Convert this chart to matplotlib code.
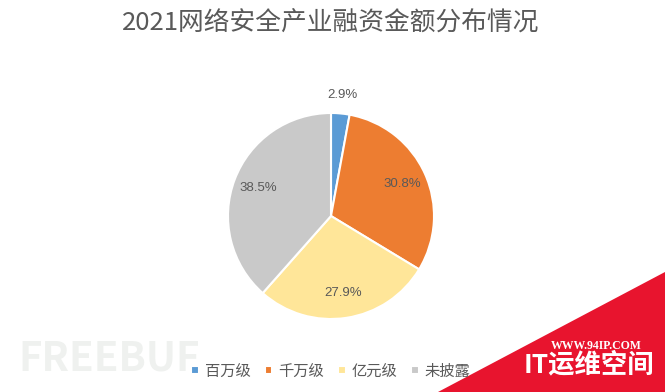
import matplotlib.pyplot as plt
from matplotlib.patches import Polygon

plt.rcParams['font.family'] = ['Noto Sans CJK SC', 'DejaVu Sans']

labels = ['百万级', '千万级', '亿元级', '未披露']
values = [2.9, 30.8, 27.9, 38.5]
colors = ['#5B9BD5', '#ED7D31', '#FFE699', '#C9C9C9']

fig = plt.figure(figsize=(6.65, 3.92), dpi=100)
# pie centre ~ (331, 216) px, radius ~103 px
ax = fig.add_axes([(331 - 103) / 665, (392 - 216 - 103) / 392, 206 / 665, 206 / 392])

wedges, texts, autotexts = ax.pie(
    values, colors=colors, startangle=90, counterclock=False,
    autopct='%1.1f%%', pctdistance=0.76,
    wedgeprops=dict(edgecolor='white', linewidth=1.5))
for t in autotexts:
    t.set_color('#595959')
    t.set_fontsize(9.5)
    t.set_fontfamily(['Liberation Sans', 'DejaVu Sans'])
# small slice label sits outside
x, y = autotexts[0].get_position()
autotexts[0].set_position((x / 0.76 * 1.18, y / 0.76 * 1.18))
ax.set_aspect('equal')
ax.set_xlim(-1, 1)
ax.set_ylim(-1, 1)

fig.text(331 / 665, 1 - 24 / 392, '2021网络安全产业融资金额分布情况', ha='center', va='center',
         fontsize=18.5, color='#595959', fontweight='light')

fig.legend(wedges, labels, loc='center', bbox_to_anchor=(331 / 665, 1 - 371 / 392),
           ncol=4, frameon=False, fontsize=11, handlelength=0.5, handleheight=0.5,
           handletextpad=0.4, columnspacing=0.9, labelcolor='#595959')

# watermarks
fig.text(18 / 665, 1 - 359 / 392, 'FREEBUF', fontsize=29, fontweight='bold',
         color='#EFF1EF', va='center', ha='left', zorder=0)
tri = Polygon([(438 / 665, 0), (1, 1 - 272 / 392), (1, 0)], closed=True,
              transform=fig.transFigure, facecolor='#E8142E', edgecolor='none')
fig.patches.append(tri)
fig.text(596 / 665, 1 - 346 / 392, 'WWW.94IP.COM', fontsize=8.5, fontweight='bold',
         color='white', ha='center', va='center', family=['Liberation Serif', 'DejaVu Serif'])
fig.text(589 / 665, 1 - 365 / 392, 'IT运维空间', fontsize=19, fontweight='bold',
         color='white', ha='center', va='center')

fig.savefig('out.png', dpi=100, facecolor='white')
